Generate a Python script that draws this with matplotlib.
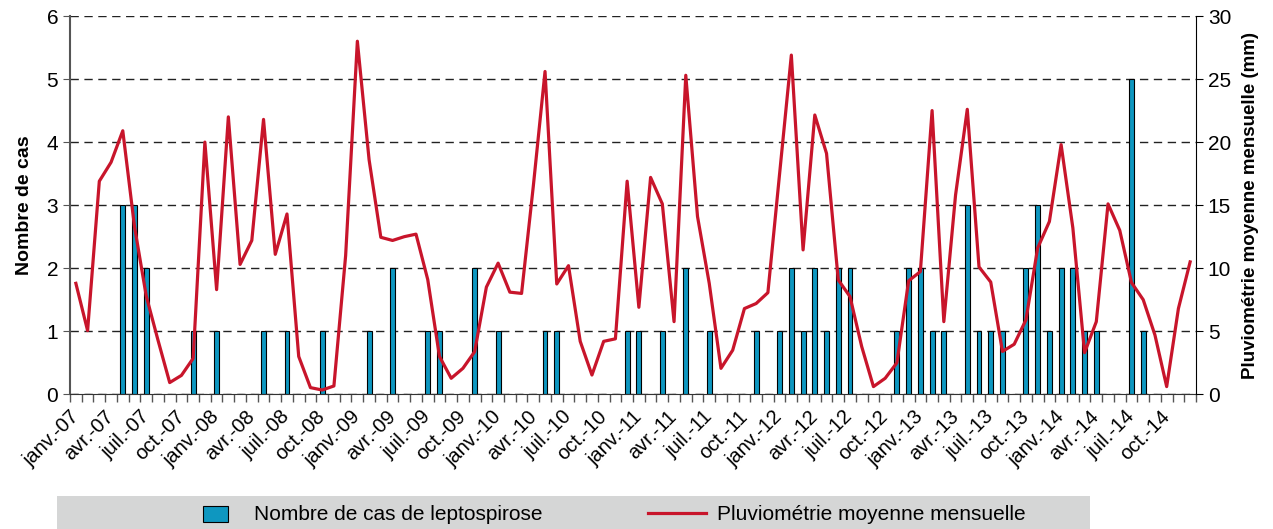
import numpy as np
import matplotlib
matplotlib.use("Agg")
import matplotlib.pyplot as plt
from matplotlib.patches import Rectangle
from matplotlib.lines import Line2D

plt.rcParams['font.family'] = ['Liberation Sans', 'DejaVu Sans']

# monthly data, janv. 2007 -> déc. 2014
month_names = ["janv.", "févr.", "mars", "avr.", "mai", "juin",
               "juil.", "août", "sept.", "oct.", "nov.", "déc."]
years = ["07", "08", "09", "10", "11", "12", "13", "14"]
months = [f"{m}-{y}" for y in years for m in month_names]

cases_2007 = [0, 0, 0, 0, 3, 3, 2, 0, 0, 0, 1, 0]
cases_2008 = [1, 0, 0, 0, 1, 0, 1, 0, 0, 1, 0, 0]
cases_2009 = [0, 1, 0, 2, 0, 0, 1, 1, 0, 0, 2, 0]
cases_2010 = [1, 0, 0, 0, 1, 1, 0, 0, 0, 0, 0, 1]
cases_2011 = [1, 0, 1, 0, 2, 0, 1, 0, 0, 0, 1, 0]
cases_2012 = [1, 2, 1, 2, 1, 2, 2, 0, 0, 0, 1, 2]
cases_2013 = [2, 1, 1, 0, 3, 1, 1, 1, 0, 2, 3, 1]
cases_2014 = [2, 2, 1, 1, 0, 0, 5, 1, 0, 0, 0, 0]

rain_2007 = [8.8, 5.05, 16.9, 18.4, 20.9, 13.3, 7.8, 4.3, 0.93, 1.5, 2.85, 20.0]
rain_2008 = [8.3, 22.0, 10.3, 12.2, 21.8, 11.1, 14.3, 3.0, 0.53, 0.34, 0.66, 11.0]
rain_2009 = [28.0, 18.6, 12.45, 12.2, 12.5, 12.7, 9.1, 3.0, 1.27, 2.06, 3.38, 8.5]
rain_2010 = [10.4, 8.1, 8.0, 16.5, 25.6, 8.75, 10.2, 4.2, 1.53, 4.2, 4.4, 16.9]
rain_2011 = [6.9, 17.2, 15.1, 5.76, 25.3, 14.1, 8.8, 2.06, 3.5, 6.8, 7.2, 8.06]
rain_2012 = [17.5, 26.9, 11.45, 22.15, 19.1, 9.07, 7.75, 3.78, 0.61, 1.27, 2.5, 9.0]
rain_2013 = [9.73, 22.5, 5.76, 15.8, 22.6, 10.1, 8.9, 3.4, 3.97, 5.9, 11.6, 13.7]
rain_2014 = [19.8, 13.2, 3.3, 5.76, 15.1, 13.0, 8.86, 7.5, 4.7, 0.61, 6.8, 10.5]

cases = (cases_2007 + cases_2008 + cases_2009 + cases_2010 +
         cases_2011 + cases_2012 + cases_2013 + cases_2014)
rain = (rain_2007 + rain_2008 + rain_2009 + rain_2010 +
        rain_2011 + rain_2012 + rain_2013 + rain_2014)

bar_color = "#0E97C0"
line_color = "#C8152B"

fig = plt.figure(figsize=(12.73, 5.29), dpi=100)
ax1 = fig.add_axes([70 / 1273, 1 - 394.3 / 529, 1126 / 1273, 378.3 / 529])
x = np.arange(len(months))

ax1.bar(x, cases, width=0.42, color=bar_color, edgecolor="black",
        linewidth=0.8, zorder=2)
ax1.set_xlim(-0.5, len(months) - 0.5)
ax1.set_ylim(0, 6)
ax1.set_yticks(range(0, 7))
ax1.yaxis.grid(True, linestyle=(0, (6, 4)), color="#222222", linewidth=1)
ax1.set_axisbelow(True)

ax1.set_xticks(x[::3])
ax1.set_xticklabels(months[::3], rotation=45, ha="right", va="center",
                    rotation_mode="anchor", fontsize=14.5)
ax1.set_xticks(np.arange(-0.5, len(months), 1), minor=True)
ax1.tick_params(axis="x", which="major", length=0, pad=14)
ax1.tick_params(axis="x", which="minor", length=6, width=1, color="#555555")
ax1.tick_params(axis="y", labelsize=15, length=5, color="#555555")
ax1.set_ylabel("Nombre de cas", fontsize=14, fontweight="bold", labelpad=10)

ax1.spines["top"].set_visible(False)
ax1.spines["right"].set_visible(False)
ax1.spines["left"].set_color("#555555")
ax1.spines["left"].set_linewidth(1.5)
ax1.spines["bottom"].set_color("#333333")

ax2 = ax1.twinx()
ax2.plot(x, rain, color=line_color, linewidth=2.3, zorder=3)
ax2.set_ylim(0, 30)
ax2.set_yticks(range(0, 31, 5))
ax2.tick_params(axis="y", labelsize=15, length=5)
ax2.set_ylabel("Pluviométrie moyenne mensuelle (mm)", fontsize=13.5,
               fontweight="bold", labelpad=8)
ax2.spines["top"].set_visible(False)
ax2.spines["left"].set_visible(False)
ax2.spines["bottom"].set_visible(False)

# legend band at the bottom
fig.add_artist(Rectangle((57 / 1273, 0), 1033 / 1273, 33 / 529,
                         transform=fig.transFigure, facecolor="#D5D6D6",
                         edgecolor="none"))
fig.add_artist(Rectangle((203 / 1273, 1 - 522 / 529), 25 / 1273, 16 / 529,
                         transform=fig.transFigure, facecolor=bar_color,
                         edgecolor="black", linewidth=0.8))
fig.text(254 / 1273, 1 - 514 / 529, "Nombre de cas de leptospirose",
         fontsize=15, va="center", ha="left")
fig.add_artist(Line2D([648 / 1273, 706 / 1273], [1 - 513 / 529, 1 - 513 / 529],
                      transform=fig.transFigure, color=line_color, linewidth=2.3))
fig.text(717 / 1273, 1 - 514 / 529, "Pluviométrie moyenne mensuelle",
         fontsize=15, va="center", ha="left")

fig.savefig("out.png", dpi=100)
